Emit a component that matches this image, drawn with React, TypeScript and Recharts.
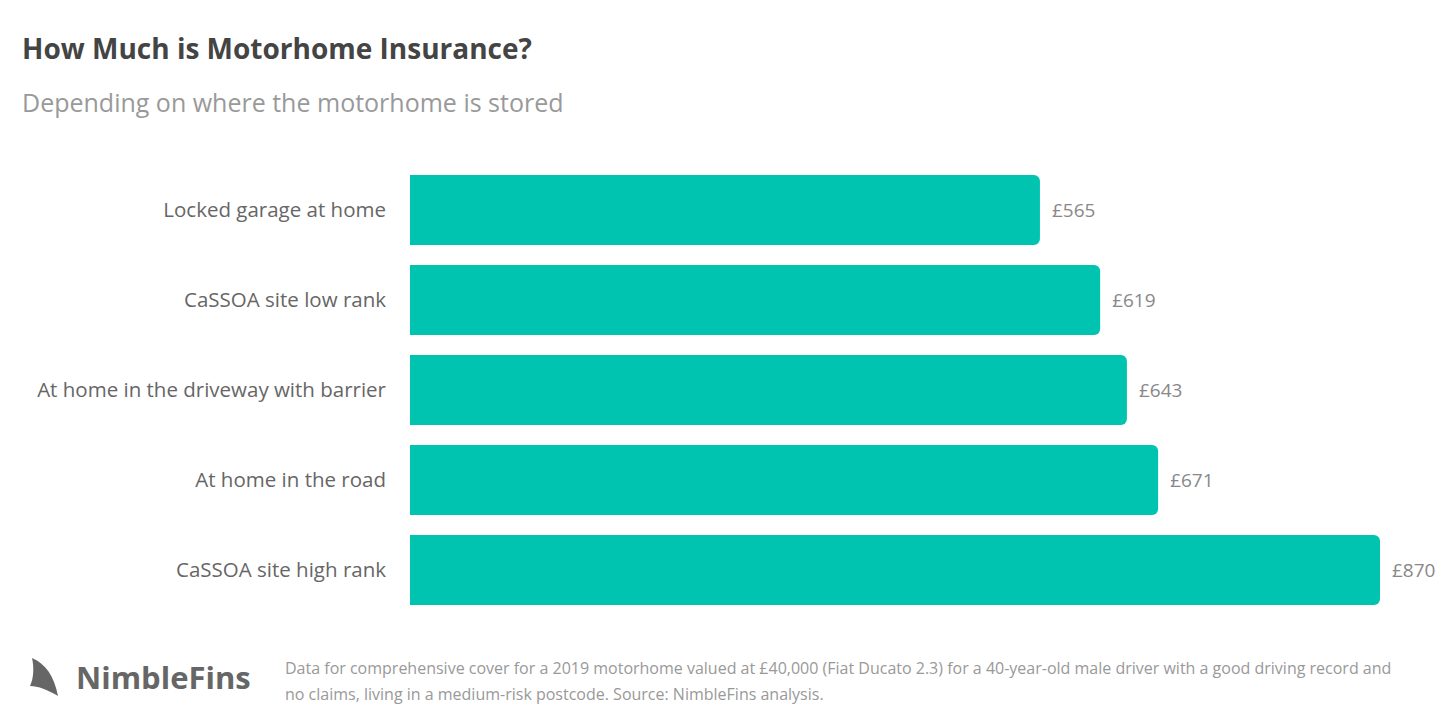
import { Bar, BarChart, LabelList, XAxis, YAxis } from "recharts";

const categories = [
  "Locked garage at home",
  "CaSSOA site low rank",
  "At home in the driveway with barrier",
  "At home in the road",
  "CaSSOA site high rank",
];
const premiums = [565, 619, 643, 671, 870];

const data = categories.map((name, i) => ({ name, premium: premiums[i] }));

const FONT = "'Open Sans', 'Noto Sans', sans-serif";
const TEAL = "#00c4b0";

export default function App() {
  return (
    <div style={{ position: "relative", width: 1452, height: 726, background: "#fff", fontFamily: FONT }}>
      <style>{"body{margin:0}"}</style>
      <div style={{ position: "absolute", left: 22, top: 29, fontSize: 28, fontWeight: 700, color: "#444" }}>
        How Much is Motorhome Insurance?
      </div>
      <div style={{ position: "absolute", left: 22, top: 85, fontSize: 25, color: "#999" }}>
        Depending on where the motorhome is stored
      </div>

      <div style={{ position: "absolute", left: 0, top: 165 }}>
        <BarChart
          width={1452}
          height={450}
          data={data}
          layout="vertical"
          margin={{ top: 0, right: 72, bottom: 0, left: 0 }}
        >
          <XAxis type="number" hide domain={[0, "dataMax"]} />
          <YAxis
            type="category"
            dataKey="name"
            width={410}
            axisLine={false}
            tickLine={false}
            tickMargin={18}
            tick={{ fontSize: 20.5, fill: "#666", fontFamily: FONT }}
          />
          <Bar dataKey="premium" fill={TEAL} barSize={70} radius={[0, 6, 6, 0]} isAnimationActive={false}>
            <LabelList
              dataKey="premium"
              position="right"
              offset={12}
              formatter={(v: number) => `£${v}`}
              style={{ fontSize: 19, fill: "#888", fontFamily: FONT }}
            />
          </Bar>
        </BarChart>
      </div>

      <div style={{ position: "absolute", left: 24, top: 654, display: "flex", alignItems: "center" }}>
        <svg width={40} height={46} viewBox="0 0 40 46">
          <path d="M8 4 C22 10 30 22 34 42 C24 36 14 32 6 32 C10 24 10 12 8 4 Z" fill="#666" />
        </svg>
        <span style={{ marginLeft: 12, fontSize: 31, fontWeight: 700, color: "#666" }}>NimbleFins</span>
      </div>
      <div
        style={{
          position: "absolute",
          left: 285,
          top: 655,
          width: 1115,
          fontSize: 16,
          lineHeight: "26px",
          color: "#999",
        }}
      >
        Data for comprehensive cover for a 2019 motorhome valued at £40,000 (Fiat Ducato 2.3) for a 40-year-old male
        driver with a good driving record and no claims, living in a medium-risk postcode. Source: NimbleFins analysis.
      </div>
    </div>
  );
}
